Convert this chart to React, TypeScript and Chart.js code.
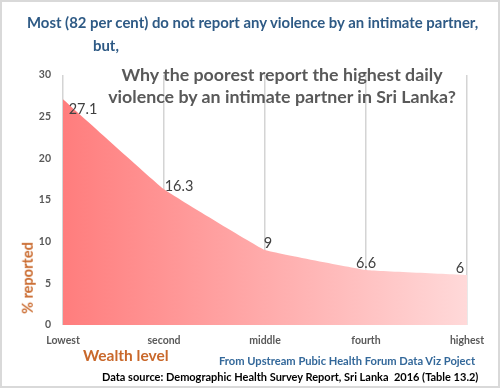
import React, { useEffect, useRef } from "react";
import { Chart, registerables } from "chart.js";

Chart.register(...registerables);

const categories = ["Lowest", "second", "middle", "fourth", "highest"];
const values = [27.1, 16.3, 9, 6.6, 6];
const yTicks = [0, 5, 10, 15, 20, 25, 30];

const FONT = "Lato, 'Open Sans', sans-serif";

const labelPlugin = {
  id: "valueLabels",
  afterDatasetsDraw(chart: any, _args: any, opts: any) {
    const ctx = chart.ctx;
    const meta = chart.getDatasetMeta(0);
    const offsets = opts.offsets || [];
    ctx.save();
    ctx.font = `14.5px ${FONT}`;
    ctx.fillStyle = "#404040";
    ctx.textAlign = "center";
    ctx.textBaseline = "middle";
    meta.data.forEach((pt: any, i: number) => {
      const o = offsets[i] || [0, -8];
      ctx.fillText(String(values[i]), pt.x + o[0], pt.y + o[1]);
    });
    ctx.restore();
  },
};

export default function App() {
  const ref = useRef<HTMLCanvasElement>(null);
  useEffect(() => {
    document.body.style.margin = "0";
    const chart = new Chart(ref.current!, {
      type: "line",
      data: {
        labels: categories,
        datasets: [
          {
            data: values,
            fill: "origin",
            borderWidth: 0,
            pointRadius: 0,
            tension: 0.06,
            backgroundColor: (c: any) => {
              const area = c.chart.chartArea;
              if (!area) return "#ff8080";
              const g = c.chart.ctx.createLinearGradient(area.left, 0, area.right, 0);
              g.addColorStop(0, "#ff7d7d");
              g.addColorStop(1, "#ffd9d9");
              return g;
            },
          },
        ],
      },
      options: {
        animation: false,
        responsive: false,
        maintainAspectRatio: false,
        layout: { padding: { left: 0, right: 33, top: 75, bottom: 0 } },
        plugins: {
          legend: { display: false },
          tooltip: { enabled: false },
          valueLabels: { offsets: [[20, 10], [15, -3], [3, -7], [0, -7], [-7, -7]] },
        } as any,
        scales: {
          x: {
            type: "category",
            offset: false,
            grid: { display: true, color: "#d4d4d4", lineWidth: 1.5, drawTicks: false, drawOnChartArea: true },
            border: { display: false },
            ticks: { color: "#595959", font: { family: FONT, size: 10.5, weight: "bold" }, padding: 9, maxRotation: 0 },
            afterFit: (s: any) => { s.height = 63; },
          },
          y: {
            min: 0,
            max: 30,
            afterBuildTicks: (s: any) => { s.ticks = yTicks.map((v) => ({ value: v })); },
            grid: { display: false, drawTicks: false },
            border: { display: false },
            ticks: { color: "#595959", font: { family: FONT, size: 10.5, weight: "bold" }, padding: 12 },
            afterFit: (s: any) => { s.width = 63; },
          },
        },
      },
      plugins: [labelPlugin],
    });
    return () => chart.destroy();
  }, []);

  const txt = (style: React.CSSProperties): React.CSSProperties => ({
    position: "absolute",
    whiteSpace: "nowrap",
    fontFamily: FONT,
    fontWeight: "bold",
    lineHeight: 1,
    transform: "translateY(-50%)",
    ...style,
  });

  return (
    <div style={{ position: "relative", width: 500, height: 388, background: "#fff", overflow: "hidden" }}>
      <canvas ref={ref} width={500} height={388} style={{ position: "absolute", left: 0, top: 0 }} />
      <div style={txt({ left: 27, top: 22, fontSize: 14.9, color: "#2e5a85" })}>
        Most (82 per cent) do not report any violence by an intimate partner,
      </div>
      <div style={txt({ left: 93, top: 45, fontSize: 14.9, color: "#2e5a85" })}>but,</div>
      <div style={txt({ left: 282, top: 75, fontSize: 17.8, color: "#595959", transform: "translate(-50%, -50%)" })}>
        Why the poorest report the highest daily
      </div>
      <div style={txt({ left: 282, top: 97, fontSize: 17.8, color: "#595959", transform: "translate(-50%, -50%)" })}>
        violence by an intimate partner in Sri Lanka?
      </div>
      <div style={txt({ left: 28, top: 278, fontSize: 14.5, color: "#c9682b", transform: "translate(-50%, -50%) rotate(-90deg)" })}>
        % reported
      </div>
      <div style={txt({ left: 83, top: 356, fontSize: 15.5, color: "#c9682b" })}>Wealth level</div>
      <div style={txt({ left: 219, top: 361, fontSize: 11.15, color: "#33689a" })}>
        From Upstream Pubic Health Forum Data Viz Poject
      </div>
      <div style={txt({ left: 102, top: 376, fontSize: 11, color: "#000" })}>
        Data source: Demographic Health Survey Report, Sri Lanka&nbsp;&nbsp;2016 (Table 13.2)
      </div>
      <div style={{ position: "absolute", inset: 0, border: "2px solid #d9d9d9", pointerEvents: "none" }} />
    </div>
  );
}
